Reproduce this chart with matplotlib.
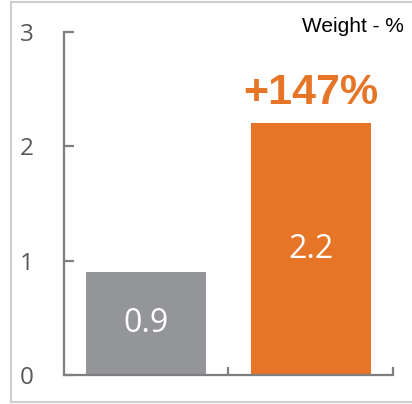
import matplotlib
matplotlib.use('Agg')
from matplotlib import pyplot as plt
from matplotlib.lines import Line2D

# Chart data.
categories = ['Before', 'After']
values = [0.9, 2.2]
bar_labels = ['0.9', '2.2']
bar_colors = ['#939598', '#e67527']
y_ticks = [0, 1, 2, 3]
change_label = '+147%'
unit_label = 'Weight - %'

W, H = 412, 404
fig = plt.figure(figsize=(W / 100, H / 100), dpi=100)
ax = fig.add_axes([64 / W, 1 - 375 / H, (393 - 64) / W, (375 - 32) / H])

x = list(range(len(categories)))
bars = ax.bar(x, values, width=0.73, color=bar_colors, zorder=2)

# Value labels inside the bars.
for rect, text in zip(bars, bar_labels):
    ax.text(rect.get_x() + rect.get_width() / 2, rect.get_height() / 2, text,
            ha='center', va='center', color='white', fontsize=23,
            family='Open Sans')

# Change label above the orange bar.
ax.text(x[1], values[1] + 0.27, change_label, ha='center', va='center',
        color='#e67527', fontsize=31, fontweight='bold',
        family='Liberation Sans')

# Format axes.
ax.set_xlim(-0.5, 1.5)
ax.set_ylim(0, 3)
ax.set_yticks(y_ticks)
ax.set_xticks([0.5, 1.5])
ax.set_xticklabels([])
for side in ['top', 'right']:
    ax.spines[side].set_visible(False)
for side in ['left', 'bottom']:
    ax.spines[side].set_color('#7f7f7f')
    ax.spines[side].set_linewidth(1.6)
ax.tick_params(axis='both', direction='in', color='#7f7f7f', width=1.6)
ax.tick_params(axis='y', length=7, pad=22, labelsize=17.5, labelcolor='#595959')
ax.tick_params(axis='x', length=6)
for lbl in ax.get_yticklabels():
    lbl.set_family('Open Sans')

fig.text(404 / W, 1 - 27 / H, unit_label, ha='right', va='center',
         fontsize=15, color='black', family='Liberation Sans')

# Light frame around the chart.
frame = dict(color='#d0d0d0', linewidth=1.5, transform=fig.transFigure)
fig.add_artist(Line2D([11 / W, 1], [1 - 2 / H, 1 - 2 / H], **frame))
fig.add_artist(Line2D([11 / W, 11 / W], [1 - 2 / H, 1 - 402 / H], **frame))
fig.add_artist(Line2D([11 / W, 1], [1 - 402 / H, 1 - 402 / H], **frame))

fig.savefig('out.png', dpi=100)
